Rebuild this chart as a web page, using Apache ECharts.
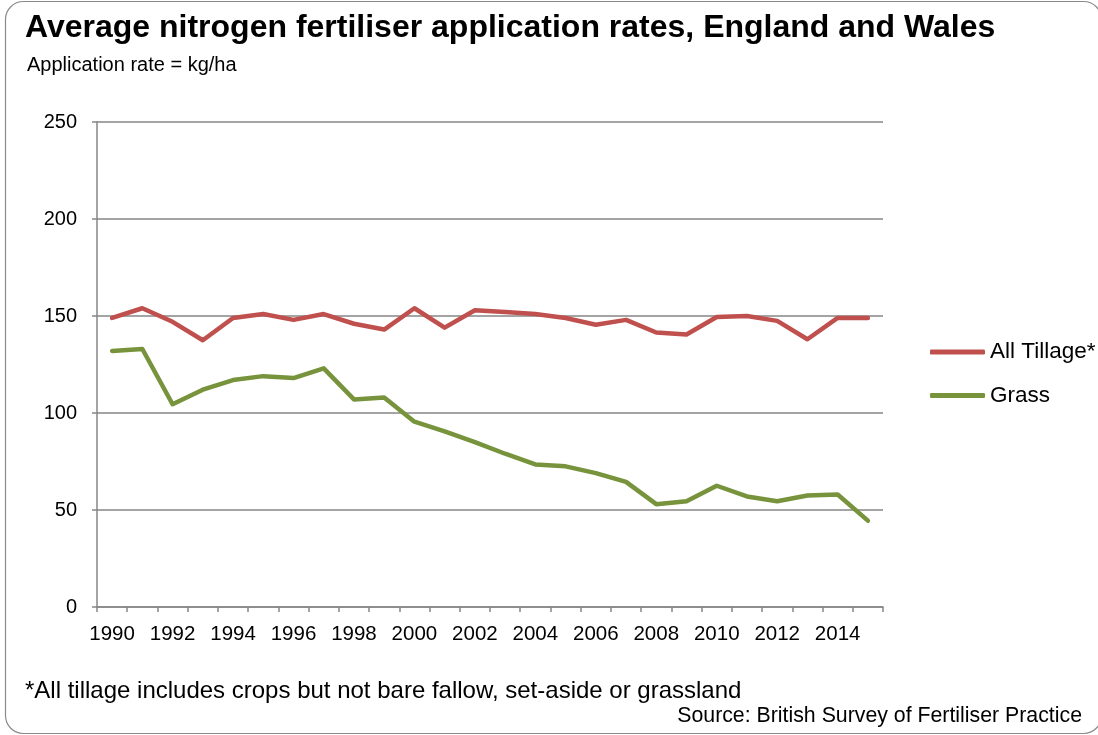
<!DOCTYPE html>
<html>
<head>
<meta charset="utf-8">
<script src="https://cdn.jsdelivr.net/npm/echarts@6/dist/echarts.min.js"></script>
<style>html,body{margin:0;padding:0;background:#fff}#c{width:1098px;height:735px}</style>
</head>
<body>
<div id="c"></div>
<script>
const years = ['1990','1991','1992','1993','1994','1995','1996','1997','1998','1999','2000','2001','2002','2003','2004','2005','2006','2007','2008','2009','2010','2011','2012','2013','2014','2015'];
const allTillage = [149,154,147,137.5,149,151,148,151,146,143,154,144,153,152,151,149,145.5,148,141.5,140.5,149.5,150,147.5,138,149,149];
const grass = [132,133,104.5,112,117,119,118,123,107,108,95.5,90.5,85,79,73.5,72.5,69,64.5,53,54.5,62.5,57,54.5,57.5,58,44.5];
const yTicks = {min: 0, max: 250, interval: 50};

const chart = echarts.init(document.getElementById('c'), null, {renderer: 'canvas'});
const font = 'Arial, "Liberation Sans", sans-serif';
const axisGray = '#868686';
chart.setOption({
  backgroundColor: '#fff',
  animation: false,
  textStyle: {fontFamily: font, color: '#000'},
  graphic: [
    {type: 'rect', shape: {x: 5.5, y: 1.5, width: 1096, height: 732, r: 18}, style: {fill: 'none', stroke: '#8a8a8a', lineWidth: 1.2}, silent: true},
    {type: 'text', left: 25, top: 12, style: {text: 'Average nitrogen fertiliser application rates, England and Wales', font: 'bold 32px ' + font, fill: '#000'}},
    {type: 'text', left: 27, top: 55, style: {text: 'Application rate = kg/ha', font: '20px ' + font, fill: '#000'}},
    {type: 'text', left: 25, top: 679, style: {text: '*All tillage includes crops but not bare fallow, set-aside or grassland', font: '24px ' + font, fill: '#000'}},
    {type: 'text', right: 16, top: 706, style: {text: 'Source: British Survey of Fertiliser Practice', font: '21.3px ' + font, fill: '#000'}}
  ],
  legend: {
    orient: 'vertical', left: 925, top: 335,
    itemWidth: 55, itemHeight: 5, itemGap: 19.5, icon: 'roundRect',
    textStyle: {fontSize: 22.5, fontFamily: font, color: '#000', lineHeight: 24},
    data: ['All Tillage*', 'Grass']
  },
  grid: {left: 97, right: 215, top: 122, bottom: 128, containLabel: false},
  xAxis: {
    type: 'category', data: years, boundaryGap: true,
    axisLine: {lineStyle: {color: axisGray, width: 1.5}},
    axisTick: {show: true, interval: 0, length: 5, lineStyle: {color: axisGray, width: 1.5}},
    axisLabel: {interval: 1, fontSize: 20.5, color: '#000', margin: 17, fontFamily: font}
  },
  yAxis: {
    type: 'value', min: yTicks.min, max: yTicks.max, interval: yTicks.interval,
    axisLine: {show: true, lineStyle: {color: axisGray, width: 1.5}},
    axisTick: {show: true, length: 5, lineStyle: {color: axisGray, width: 1.5}},
    splitLine: {lineStyle: {color: axisGray, width: 1.5}},
    axisLabel: {fontSize: 20, color: '#000', margin: 20, fontFamily: font}
  },
  series: [
    {name: 'All Tillage*', type: 'line', data: allTillage, symbol: 'none', color: '#C0504D',
     lineStyle: {width: 4.5, color: '#C0504D', cap: 'round', join: 'round'}},
    {name: 'Grass', type: 'line', data: grass, symbol: 'none', color: '#77933C',
     lineStyle: {width: 4.5, color: '#77933C', cap: 'round', join: 'round'}}
  ]
});
</script>
</body>
</html>
